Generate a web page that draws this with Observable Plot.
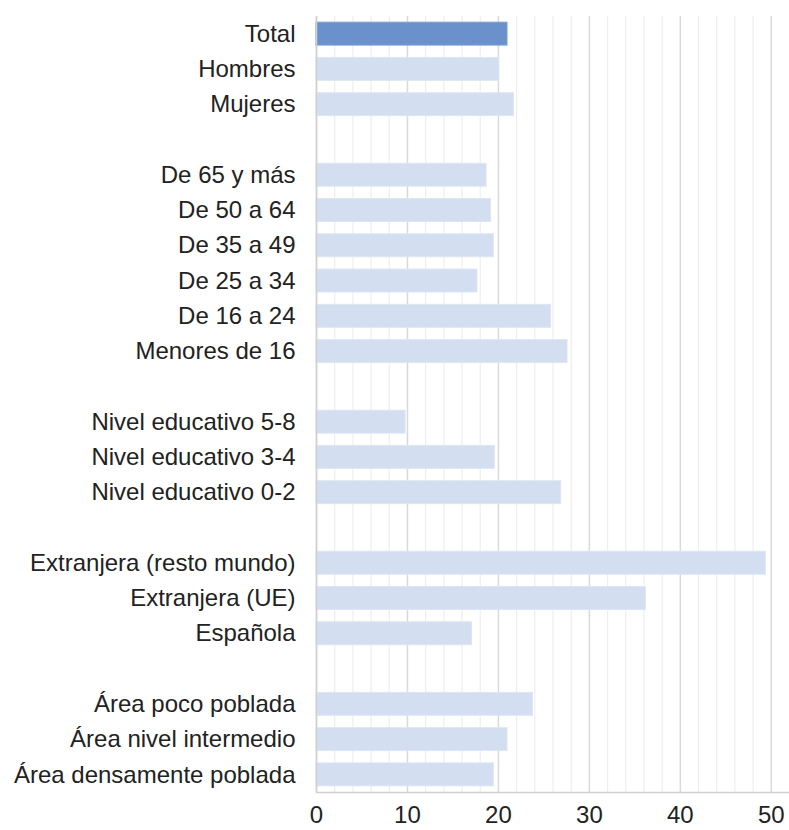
<!DOCTYPE html>
<html>
<head>
<meta charset="utf-8">
<script src="https://cdn.jsdelivr.net/npm/d3@7"></script>
<script src="https://cdn.jsdelivr.net/npm/@observablehq/plot@0.6"></script>
<style>
  html, body { margin: 0; padding: 0; background: #fff; }
  #chart svg { display: block; }
</style>
</head>
<body>
<div id="chart"></div>
<script>
const categories = [
  "Total", "Hombres", "Mujeres",
  "De 65 y más", "De 50 a 64", "De 35 a 49", "De 25 a 34", "De 16 a 24", "Menores de 16",
  "Nivel educativo 5-8", "Nivel educativo 3-4", "Nivel educativo 0-2",
  "Extranjera (resto mundo)", "Extranjera (UE)", "Española",
  "Área poco poblada", "Área nivel intermedio", "Área densamente poblada"
];
const values = [
  21.0, 20.1, 21.7,
  18.7, 19.2, 19.5, 17.7, 25.8, 27.6,
  9.8, 19.6, 26.9,
  49.4, 36.2, 17.1,
  23.8, 21.0, 19.5
];
const groupSizes = [3, 6, 3, 3, 3];
const xTicks = [0, 10, 20, 30, 40, 50];
const highlight = "Total";

// row order with blank spacer rows between groups
const rows = [];
let k = 0;
groupSizes.forEach((n, g) => {
  if (g > 0) rows.push("_gap" + g);
  for (let i = 0; i < n; i++) rows.push(categories[k++]);
});
const data = categories.map((c, i) => ({ cat: c, value: values[i] }));

const chart = Plot.plot({
  width: 789,
  height: 830,
  marginLeft: 316,
  marginRight: 0,
  marginTop: 16,
  marginBottom: 38,
  style: { fontFamily: "'Liberation Sans', Arial, sans-serif", fontSize: "24px", color: "#222" },
  x: { domain: [0, 52], axis: null },
  y: { domain: rows, paddingInner: 0.35, paddingOuter: 0.175, round: false, axis: null },
  marks: [
    Plot.gridX(d3.range(0, 53, 2).filter(v => v % 10 !== 0), { stroke: "#eeeeee", strokeOpacity: 1, strokeWidth: 1.2 }),
    Plot.gridX(xTicks, { stroke: "#d9d9d9", strokeOpacity: 1, strokeWidth: 1.5 }),
    Plot.barX(data, {
      x: "value", y: "cat",
      fill: d => d.cat === highlight ? "#6b91cc" : "#d3dff0",
      stroke: d => d.cat === highlight ? "#7d9fd4" : "#dde6f3",
      strokeWidth: 1
    }),
    Plot.ruleX([0], { stroke: "#d0d0d0", strokeWidth: 1.5 }),
    Plot.frame({ anchor: "bottom", stroke: "#d0d0d0", strokeWidth: 1.5 }),
    Plot.axisX({ ticks: xTicks, tickSize: 0, tickPadding: 13, fontSize: 24, fill: "#222", label: null }),
    Plot.axisY({ ticks: categories, tickSize: 0, tickPadding: 21, fontSize: 24, fill: "#222", label: null })
  ]
});
document.getElementById("chart").append(chart);
</script>
</body>
</html>
